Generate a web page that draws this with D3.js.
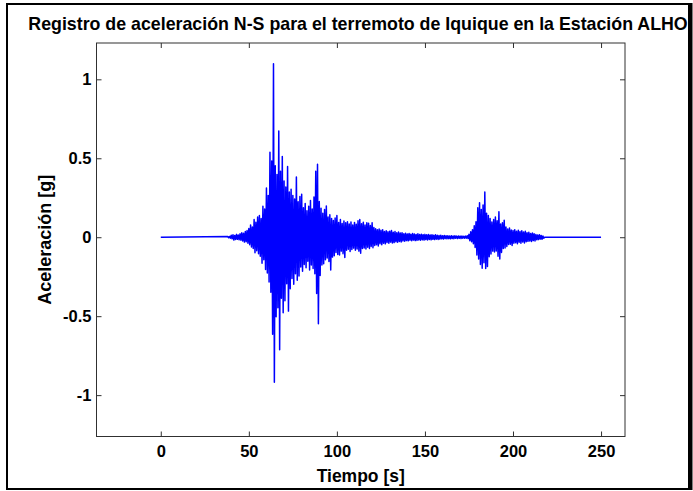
<!DOCTYPE html>
<html>
<head>
<meta charset="utf-8">
<script src="https://cdn.jsdelivr.net/npm/d3@7"></script>
<style>
  html, body { margin: 0; padding: 0; background: #fff; }
  svg { display: block; font-family: "Liberation Sans", Arial, Helvetica, sans-serif; }
  .tick text { font-weight: bold; }
</style>
</head>
<body>
<svg id="chart" width="693" height="491"></svg>
<script>
// Registro de aceleración, componente N-S, estación ALHO (valores en g)
const titleText = "Registro de aceleración N-S para el terremoto de Iquique en la Estación ALHO";
const xLabel = "Tiempo [s]";
const yLabel = "Aceleración [g]";

// Límites de los ejes
const xDomain = [-36.5, 263.6];
const yDomain = [-1.262, 1.23];
const xTicks = [0, 50, 100, 150, 200, 250];
const yTicks = [-1, -0.5, 0, 0.5, 1];
const yTickLabels = ["-1", "-0.5", "0", "0.5", "1"];

// Duración total del registro
const recordStart = 0;
const recordEnd = 250;

// Picos de aceleración muestreados cada 0.5 s desde t = 38 s
const sampleStart = 38;
const sampleStep = 0.5;
const accel = [
  // 38-47 s
  0.004,-0.003, 0.005,-0.006, 0.012,-0.010, 0.015,-0.018, 0.011,-0.014, 0.018,-0.013, 0.014,-0.016, 0.022,-0.019, 0.028,-0.024, 0.025,-0.031,
  // 48-57 s
  0.036,-0.028, 0.042,-0.038, 0.055,-0.047, 0.078,-0.062, 0.064,-0.071, 0.112,-0.098, 0.095,-0.085, 0.128,-0.104, 0.137,-0.121, 0.118,-0.165,
  // 58-67 s
  0.196,-0.142, 0.178,-0.205, 0.312,-0.226, 0.265,-0.283, 0.538,-0.348, 0.482,-0.615, 1.098,-0.918, 0.452,-0.503, 0.398,-0.447, 0.672,-0.712,
  // 68-77 s
  0.418,-0.387, 0.512,-0.478, 0.356,-0.402, 0.318,-0.295, 0.448,-0.468, 0.286,-0.327, 0.304,-0.262, 0.265,-0.298, 0.242,-0.231, 0.381,-0.272,
  // 78-87 s
  0.224,-0.246, 0.258,-0.188, 0.272,-0.215, 0.186,-0.172, 0.214,-0.194, 0.168,-0.152, 0.196,-0.208, 0.232,-0.176, 0.178,-0.198, 0.254,-0.231,
  // 88-97 s
  0.418,-0.356, 0.462,-0.548, 0.226,-0.243, 0.184,-0.176, 0.152,-0.168, 0.176,-0.142, 0.198,-0.131, 0.128,-0.154, 0.142,-0.207, 0.118,-0.126,
  // 98-107 s
  0.106,-0.118, 0.121,-0.097, 0.138,-0.109, 0.094,-0.112, 0.112,-0.088, 0.087,-0.104, 0.102,-0.128, 0.091,-0.082, 0.098,-0.076, 0.084,-0.091,
  // 108-117 s
  0.096,-0.078, 0.078,-0.069, 0.094,-0.082, 0.082,-0.074, 0.104,-0.088, 0.112,-0.101, 0.086,-0.072, 0.095,-0.068, 0.078,-0.075, 0.091,-0.064,
  // 118-127 s
  0.088,-0.071, 0.074,-0.058, 0.092,-0.066, 0.062,-0.052, 0.054,-0.048, 0.048,-0.056, 0.052,-0.041, 0.044,-0.047, 0.047,-0.038, 0.036,-0.042,
  // 128-137 s
  0.041,-0.033, 0.034,-0.038, 0.038,-0.031, 0.042,-0.036, 0.031,-0.034, 0.036,-0.029, 0.028,-0.032, 0.033,-0.027, 0.026,-0.030, 0.029,-0.024,
  // 138-147 s
  0.022,-0.025, 0.025,-0.021, 0.021,-0.023, 0.024,-0.019, 0.019,-0.022, 0.023,-0.018, 0.020,-0.021, 0.018,-0.020, 0.022,-0.017, 0.017,-0.019,
  // 148-157 s
  0.019,-0.016, 0.016,-0.018, 0.018,-0.015, 0.015,-0.017, 0.017,-0.014, 0.014,-0.016, 0.016,-0.013, 0.013,-0.015, 0.015,-0.012, 0.012,-0.014,
  // 158-167 s
  0.011,-0.012, 0.012,-0.010, 0.010,-0.011, 0.011,-0.009, 0.009,-0.010, 0.010,-0.009, 0.008,-0.010, 0.009,-0.008, 0.008,-0.009, 0.009,-0.007,
  // 168-177 s
  0.007,-0.008, 0.008,-0.007, 0.007,-0.008, 0.008,-0.006, 0.006,-0.007, 0.007,-0.006, 0.009,-0.008, 0.018,-0.022, 0.034,-0.029, 0.048,-0.041,
  // 178-187 s
  0.072,-0.065, 0.098,-0.112, 0.186,-0.138, 0.218,-0.172, 0.176,-0.196, 0.204,-0.162, 0.286,-0.198, 0.152,-0.186, 0.138,-0.124, 0.118,-0.106,
  // 188-197 s
  0.096,-0.088, 0.112,-0.094, 0.128,-0.087, 0.104,-0.121, 0.162,-0.138, 0.084,-0.096, 0.092,-0.072, 0.108,-0.068, 0.064,-0.058, 0.052,-0.046,
  // 198-207 s
  0.058,-0.044, 0.046,-0.052, 0.042,-0.038, 0.048,-0.035, 0.038,-0.041, 0.044,-0.032, 0.036,-0.038, 0.041,-0.030, 0.033,-0.036, 0.038,-0.028,
  // 208-217 s
  0.028,-0.026, 0.031,-0.024, 0.024,-0.027, 0.027,-0.021, 0.022,-0.024, 0.018,-0.016, 0.014,-0.015, 0.016,-0.012, 0.011,-0.013, 0.008,-0.006
];

const svg = d3.select("#chart");
const W = 693, H = 491;
const plot = { left: 96.5, right: 625, top: 43, bottom: 436.5 };

const x = d3.scaleLinear().domain(xDomain).range([plot.left, plot.right]);
const y = d3.scaleLinear().domain(yDomain).range([plot.bottom, plot.top]);

svg.append("rect").attr("width", W).attr("height", H).attr("fill", "#fff");

// Serie temporal: reposo antes y después del evento
const series = [[recordStart, 0]]
  .concat(accel.map((a, i) => [sampleStart + i * sampleStep, a]))
  .concat([[sampleStart + accel.length * sampleStep, 0], [recordEnd, 0]]);

const line = d3.line().x(d => x(d[0])).y(d => y(d[1]));

svg.append("path")
  .datum(series)
  .attr("d", line)
  .attr("fill", "none")
  .attr("stroke", "#0000ff")
  .attr("stroke-width", 1.5)
  .attr("stroke-linejoin", "round");

// Ejes con marcas hacia adentro (también en lados opuestos)
const axisColor = "#303030";
const tickLen = 5;

const gx = svg.append("g").attr("transform", `translate(0,${plot.bottom})`)
  .call(d3.axisBottom(x).tickValues(xTicks).tickFormat(d => String(d))
    .tickSizeInner(-tickLen).tickSizeOuter(0).tickPadding(8.5));
const gxTop = svg.append("g").attr("transform", `translate(0,${plot.top})`)
  .call(d3.axisTop(x).tickValues(xTicks).tickFormat("")
    .tickSizeInner(-tickLen).tickSizeOuter(0));
const gy = svg.append("g").attr("transform", `translate(${plot.left},0)`)
  .call(d3.axisLeft(y).tickValues(yTicks).tickFormat((d, i) => yTickLabels[i])
    .tickSizeInner(-tickLen).tickSizeOuter(0).tickPadding(5));
const gyRight = svg.append("g").attr("transform", `translate(${plot.right},0)`)
  .call(d3.axisRight(y).tickValues(yTicks).tickFormat("")
    .tickSizeInner(-tickLen).tickSizeOuter(0));

[gx, gxTop, gy, gyRight].forEach(g => {
  g.select(".domain").remove();
  g.selectAll(".tick line").attr("stroke", axisColor);
  g.selectAll(".tick text")
    .attr("fill", "#000")
    .style("font-size", "16.5px")
    .style("font-weight", "bold")
    .style("font-family", '"Liberation Sans", Arial, sans-serif');
});

// Caja de los ejes
svg.append("rect")
  .attr("x", plot.left).attr("y", plot.top)
  .attr("width", plot.right - plot.left).attr("height", plot.bottom - plot.top)
  .attr("fill", "none").attr("stroke", axisColor).attr("stroke-width", 1);

// Etiquetas de los ejes
svg.append("text")
  .attr("x", (plot.left + plot.right) / 2).attr("y", 481.5)
  .attr("text-anchor", "middle")
  .style("font-size", "17.5px").style("font-weight", "bold")
  .text(xLabel);

svg.append("text")
  .attr("transform", `translate(51,${(plot.top + plot.bottom) / 2}) rotate(-90)`)
  .attr("text-anchor", "middle")
  .style("font-size", "18px").style("font-weight", "bold")
  .text(yLabel);

// Título
svg.append("text")
  .attr("x", 358).attr("y", 30)
  .attr("text-anchor", "middle")
  .style("font-size", "17.8px").style("font-weight", "bold")
  .text(titleText);

// Marco exterior de la figura
svg.append("rect")
  .attr("x", 7).attr("y", 4).attr("width", 682).attr("height", 485)
  .attr("fill", "none").attr("stroke", "#000").attr("stroke-width", 2);
svg.append("line")
  .attr("x1", 690.5).attr("x2", 690.5).attr("y1", 3).attr("y2", 490)
  .attr("stroke", "#000").attr("stroke-width", 4);
</script>
</body>
</html>
